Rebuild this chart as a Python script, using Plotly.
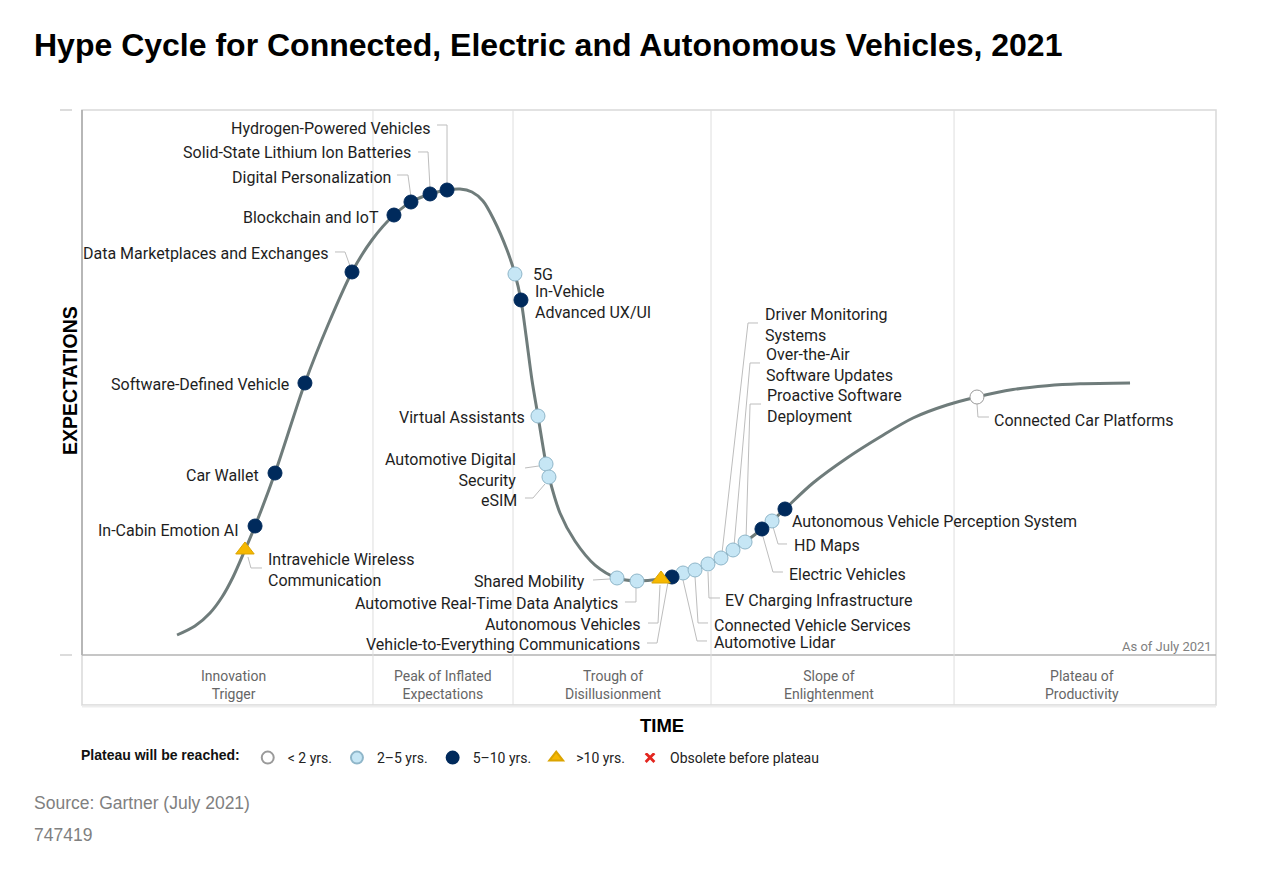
import plotly.graph_objects as go

# ---------------- data ----------------
# hype curve (time: 0-100 across the chart, expectations: 0-100)
curve_time = [8.38, 9.96, 11.29, 12.35, 13.32, 14.37, 15.26, 17.02, 19.66, 21.69, 23.81, 25.57,
              27.51, 29.01, 30.69, 32.19, 33.33, 34.39, 35.36, 36.33, 37.48, 38.18, 38.71, 39.15,
              39.68, 40.21, 40.92, 41.18, 42.15, 43.47, 45.24, 47.18, 48.94, 51.06, 52.03, 53.00,
              54.06, 55.20, 56.35, 57.41, 58.47, 59.96, 60.85, 61.99, 64.46, 67.46, 70.37, 73.28,
              76.28, 78.92, 82.10, 85.10, 88.01, 92.42]
curve_expect = [3.67, 5.32, 7.71, 10.64, 14.31, 19.27, 23.67, 33.39, 49.91, 60.55, 70.28, 76.15,
                80.73, 83.12, 84.59, 85.32, 85.50, 84.95, 83.30, 79.82, 74.31, 69.91, 65.14, 58.72,
                50.46, 43.85, 35.05, 32.66, 26.06, 20.92, 16.51, 14.13, 13.58, 13.94, 14.31, 15.05,
                15.60, 16.70, 17.80, 19.27, 20.73, 23.12, 24.59, 26.79, 31.56, 36.15, 40.00, 43.49,
                45.87, 47.34, 48.70, 49.40, 49.75, 49.91]

tech_labels = [
    "Intravehicle Wireless<br>Communication", "In-Cabin Emotion AI", "Car Wallet",
    "Software-Defined Vehicle", "Data Marketplaces and Exchanges", "Blockchain and IoT",
    "Digital Personalization", "Solid-State Lithium Ion Batteries", "Hydrogen-Powered Vehicles",
    "5G", "In-Vehicle<br>Advanced UX/UI", "Virtual Assistants", "Automotive Digital<br>Security",
    "eSIM", "Shared Mobility", "Automotive Real-Time Data Analytics", "Autonomous Vehicles",
    "Vehicle-to-Everything Communications", "Automotive Lidar", "Connected Vehicle Services",
    "EV Charging Infrastructure", "Driver Monitoring<br>Systems", "Over-the-Air<br>Software Updates",
    "Proactive Software<br>Deployment", "Electric Vehicles", "HD Maps",
    "Autonomous Vehicle Perception System", "Connected Car Platforms",
]
tech_time = [14.37, 15.26, 17.02, 19.66, 23.81, 27.51, 29.01, 30.69, 32.19, 38.18, 38.71, 40.21,
             40.92, 41.18, 47.18, 48.94, 51.06, 52.03, 53.00, 54.06, 55.20, 56.35, 57.41, 58.47,
             59.96, 60.85, 61.99, 78.92]
tech_expect = [19.27, 23.67, 33.39, 49.91, 70.28, 80.73, 83.12, 84.59, 85.32, 69.91, 65.14, 43.85,
               35.05, 32.66, 14.13, 13.58, 13.94, 14.31, 15.05, 15.60, 16.70, 17.80, 19.27, 20.73,
               23.12, 24.59, 26.79, 47.34]
tech_plateau = [">10 yrs.", "5–10 yrs.", "5–10 yrs.", "5–10 yrs.", "5–10 yrs.", "5–10 yrs.",
                "5–10 yrs.", "5–10 yrs.", "5–10 yrs.", "2–5 yrs.", "5–10 yrs.", "2–5 yrs.",
                "2–5 yrs.", "2–5 yrs.", "2–5 yrs.", "2–5 yrs.", ">10 yrs.", "5–10 yrs.",
                "2–5 yrs.", "2–5 yrs.", "2–5 yrs.", "2–5 yrs.", "2–5 yrs.", "2–5 yrs.",
                "5–10 yrs.", "2–5 yrs.", "5–10 yrs.", "< 2 yrs."]

plateau_categories = ["< 2 yrs.", "2–5 yrs.", "5–10 yrs.", ">10 yrs.", "Obsolete before plateau"]

phase_labels = ["Innovation<br>Trigger", "Peak of Inflated<br>Expectations", "Trough of<br>Disillusionment",
                "Slope of<br>Enlightenment", "Plateau of<br>Productivity"]
phase_bounds = [0, 25.66, 38.01, 55.47, 76.90, 100]
phase_label_time = [13.40, 31.83, 46.83, 65.87, 88.18]

# ---------------- layout / styling ----------------
W, H = 1280, 871
PL, PR, PT, PB, BAND_B = 82, 1216, 110, 655, 705   # plot frame in px
ux = (PR - PL) / 100.0
uy = (PB - PT) / 100.0


def px(x):
    return x / W


def py(y):
    return 1 - y / H


# label placement: (anchor, dx px, dy px, leader offsets in px relative to marker)
placements = [
    ("left", 21, 20, [(3, 7), (6, 18), (17, 18)]),
    ("right", -14, 4, None),
    ("right", -14, 2, None),
    ("right", -14, 2, None),
    ("right", -22, -18, [(-2, -6), (-7, -20), (-17, -20)]),
    ("right", -13, 2, None),
    ("right", -18, -25, [(0, -5), (-3, -27), (-14, -27)]),
    ("right", -17, -41, [(0, -6), (-2, -42), (-12, -42)]),
    ("right", -15, -62, [(0, -5), (0, -65), (-10, -65)]),
    ("left", 16, 1, None),
    ("left", 12, 2, None),
    ("right", -11, 1, None),
    ("right", -28, 6, [(-7, 2), (-21, 4)]),
    ("right", -30, 23, [(-4, 7), (-16, 21), (-24, 21)]),
    ("right", -30, 4, [(-7, 1), (-24, 2)]),
    ("right", -17, 23, [(-1, 6), (-1, 21), (-12, 21)]),
    ("right", -18, 45, [(-1, 6), (-3, 44), (-13, 44)]),
    ("right", -30, 67, [(-4, 5), (-15, 66), (-25, 66)]),
    ("left", 29, 70, [(0, 7), (14, 68), (24, 68)]),
    ("left", 17, 56, [(0, 7), (3, 53), (13, 53)]),
    ("left", 15, 37, [(0, 8), (1, 34), (12, 34)]),
    ("left", 42, -233, [(1, -5), (27, -235), (37, -235)]),
    ("left", 31, -185, [(1, -4), (17, -187), (27, -187)]),
    ("left", 20, -136, [(1, -4), (5, -138), (16, -138)]),
    ("left", 25, 45, [(0, 4), (11, 43), (21, 43)]),
    ("left", 20, 25, [(1, 6), (6, 23), (15, 23)]),
    ("left", 5, 13, None),
    ("left", 15, 23, [(0, 6), (1, 20), (12, 20)]),
]

marker_styles = {
    "< 2 yrs.": dict(symbol="circle", size=14, color="#ffffff", line=dict(color="#9a9a9a", width=1)),
    "2–5 yrs.": dict(symbol="circle", size=14, color="#c6e6f5", line=dict(color="#8fb6c9", width=1)),
    "5–10 yrs.": dict(symbol="circle", size=14, color="#002a5c", line=dict(color="#002a5c", width=1)),
    ">10 yrs.": dict(symbol="triangle-up", size=16, color="#f6b800", line=dict(color="#dba400", width=1)),
    "Obsolete before plateau": dict(symbol="x", size=12, color="#e3261f", line=dict(color="#ffffff", width=1)),
}

LABEL_FONT = dict(family="Roboto", size=16, color="#1e1e1e")

fig = go.Figure()

# curve
fig.add_trace(go.Scatter(x=curve_time, y=curve_expect, mode="lines",
                         line=dict(color="#6f7c7b", width=3, shape="spline", smoothing=0.9),
                         hoverinfo="skip", showlegend=False))

# leader lines
lx, ly = [], []
for i, p in enumerate(placements):
    if p[3]:
        for ox, oy in p[3]:
            lx.append(tech_time[i] + ox / ux)
            ly.append(tech_expect[i] - oy / uy)
        lx.append(None)
        ly.append(None)
fig.add_trace(go.Scatter(x=lx, y=ly, mode="lines", line=dict(color="#bdbdbd", width=1),
                         hoverinfo="skip", showlegend=False))

# markers by plateau category
for cat in plateau_categories:
    xs = [t for t, c in zip(tech_time, tech_plateau) if c == cat]
    ys = [e for e, c in zip(tech_expect, tech_plateau) if c == cat]
    names = [n for n, c in zip(tech_labels, tech_plateau) if c == cat]
    if not xs:
        xs, ys = [None], [None]
    fig.add_trace(go.Scatter(x=xs, y=ys, mode="markers", name=cat, marker=marker_styles[cat],
                             text=names, hoverinfo="text"))

annotations = []
for i, lab in enumerate(tech_labels):
    anchor, dx, dy, _ = placements[i]
    annotations.append(dict(x=tech_time[i], y=tech_expect[i], xref="x", yref="y", text=lab,
                            showarrow=False, xanchor=anchor, yanchor="middle", align=anchor,
                            xshift=dx, yshift=-dy, font=LABEL_FONT))

for lab, t in zip(phase_labels, phase_label_time):
    annotations.append(dict(x=t, y=py(684.5), xref="x", yref="paper", text=lab, showarrow=False,
                            xanchor="center", yanchor="middle", align="center",
                            font=dict(family="Roboto", size=14, color="#666666")))

annotations += [
    dict(x=px(32), y=py(45), xref="paper", yref="paper", xanchor="left", yanchor="middle",
         text="<b>Hype Cycle for Connected, Electric and Autonomous Vehicles, 2021</b>", showarrow=False,
         font=dict(family="Liberation Sans", size=32, color="#000000")),
    dict(x=px(70), y=py(381), xref="paper", yref="paper", xanchor="center", yanchor="middle",
         text="<b>EXPECTATIONS</b>", textangle=-90, showarrow=False,
         font=dict(family="Liberation Sans", size=19.5, color="#000000")),
    dict(x=px(662), y=py(725), xref="paper", yref="paper", xanchor="center", yanchor="middle",
         text="<b>TIME</b>", showarrow=False,
         font=dict(family="Liberation Sans", size=18.5, color="#000000")),
    dict(x=px(1214), y=py(646), xref="paper", yref="paper", xanchor="right", yanchor="middle",
         text="As of July 2021", showarrow=False,
         font=dict(family="Roboto", size=13, color="#808080")),
    dict(x=px(32), y=py(803), xref="paper", yref="paper", xanchor="left", yanchor="middle",
         text="Source: Gartner (July 2021)", showarrow=False,
         font=dict(family="Liberation Sans", size=17.5, color="#808080")),
    dict(x=px(32), y=py(835), xref="paper", yref="paper", xanchor="left", yanchor="middle",
         text="747419", showarrow=False,
         font=dict(family="Liberation Sans", size=17.5, color="#808080")),
]

shapes = [
    # outer frame incl. phase band
    dict(type="rect", xref="paper", yref="paper", x0=px(PL), x1=px(PR), y0=py(BAND_B), y1=py(PT),
         line=dict(color="#d9d9d9", width=1.5), layer="below"),
    dict(type="line", xref="paper", yref="paper", x0=px(PL), x1=px(PR), y0=py(BAND_B + 1.5), y1=py(BAND_B + 1.5),
         line=dict(color="#ededed", width=2), layer="below"),
    # axes lines
    dict(type="line", xref="paper", yref="paper", x0=px(PL), x1=px(PL), y0=py(PB), y1=py(PT),
         line=dict(color="#a8a8a8", width=1.5), layer="below"),
    dict(type="line", xref="paper", yref="paper", x0=px(PL), x1=px(PR), y0=py(PB), y1=py(PB),
         line=dict(color="#b3b3b3", width=1.5), layer="below"),
    # small outside ticks
    dict(type="line", xref="paper", yref="paper", x0=px(60), x1=px(72), y0=py(PT), y1=py(PT),
         line=dict(color="#d0d0d0", width=1.5)),
    dict(type="line", xref="paper", yref="paper", x0=px(60), x1=px(72), y0=py(PB), y1=py(PB),
         line=dict(color="#d0d0d0", width=1.5)),
]
for b in phase_bounds[1:-1]:
    shapes.append(dict(type="line", xref="x", yref="paper", x0=b, x1=b, y0=py(BAND_B), y1=py(PT),
                       line=dict(color="#dedede", width=1), layer="below"))

fig.update_layout(
    width=W, height=H, margin=dict(l=0, r=0, t=0, b=0),
    paper_bgcolor="#ffffff", plot_bgcolor="#ffffff",
    xaxis=dict(domain=[px(PL), px(PR)], range=[0, 100], showgrid=False, zeroline=False,
               showticklabels=False, showline=False, fixedrange=True),
    yaxis=dict(domain=[py(PB), py(PT)], range=[0, 100], showgrid=False, zeroline=False,
               showticklabels=False, showline=False, fixedrange=True),
    annotations=annotations, shapes=shapes,
    legend=dict(orientation="h", x=px(79), xanchor="left", y=py(758), yanchor="middle",
                title=dict(text="<b>Plateau will be reached:</b>", side="left",
                           font=dict(family="Liberation Sans", size=14, color="#111111")),
                font=dict(family="Roboto", size=14, color="#222222"),
                bgcolor="rgba(0,0,0,0)", itemsizing="constant", traceorder="normal"),
    showlegend=True,
)

fig.write_html("out.html")
